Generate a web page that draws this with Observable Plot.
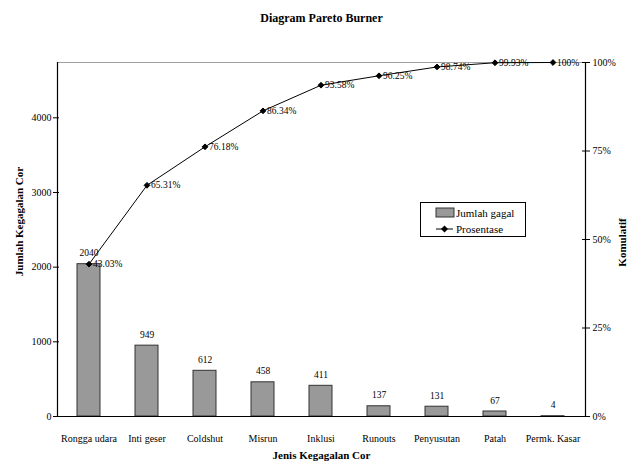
<!DOCTYPE html>
<html>
<head>
<meta charset="utf-8">
<script src="https://cdn.jsdelivr.net/npm/d3@7"></script>
<script src="https://cdn.jsdelivr.net/npm/@observablehq/plot@0.6"></script>
<style>
  html, body { margin: 0; padding: 0; background: white; }
</style>
</head>
<body>
<div id="chart"></div>
<script>
const categories = ["Rongga udara", "Inti geser", "Coldshut", "Misrun", "Inklusi", "Runouts", "Penyusutan", "Patah", "Permk. Kasar"];
const counts = [2040, 949, 612, 458, 411, 137, 131, 67, 4];
const cumulativePct = [43.03, 65.31, 76.18, 86.34, 93.58, 96.25, 98.74, 99.93, 100];
const pctLabels = ["43.03%", "65.31%", "76.18%", "86.34%", "93.58%", "96.25%", "98.74%", "99.93%", "100%"];
const leftTicks = [0, 1000, 2000, 3000, 4000];
const rightTicks = [0, 25, 50, 75, 100];
const total = 4741;

const data = categories.map((c, i) => ({cat: c, count: counts[i], pct: cumulativePct[i], label: pctLabels[i]}));
const pctY = d => d.pct / 100 * total;

const chart = Plot.plot({
  width: 636,
  height: 463,
  marginTop: 62,
  marginBottom: 47,
  marginLeft: 57,
  marginRight: 51,
  style: {fontFamily: "'Liberation Serif', 'Times New Roman', serif", fontSize: "10px", background: "white", color: "black"},
  x: {domain: categories, paddingInner: 0.6, paddingOuter: 0.3, label: null},
  y: {domain: [0, total], label: null},
  marks: [
    Plot.barY(data, {x: "cat", y: "count", fill: "#999999", stroke: "#333", strokeWidth: 1}),
    Plot.ruleY([total], {stroke: "#a0a0a0", strokeWidth: 1.2}),
    Plot.ruleY([0], {stroke: "black", strokeWidth: 1.2}),
    Plot.frame({anchor: "left", stroke: "black", strokeWidth: 1.2}),
    Plot.frame({anchor: "right", stroke: "black", strokeWidth: 1.2}),
    Plot.axisX({tickSize: 0, tickPadding: 18, label: null, fontSize: 10}),
    Plot.axisY({ticks: leftTicks, tickFormat: d => String(d), tickSize: 6, dx: 2, tickPadding: 2, label: null, fontSize: 10}),
    Plot.axisY({anchor: "right", ticks: rightTicks.map(p => p / 100 * total), tickFormat: d => Math.round(d / total * 100) + "%", tickSize: 8, dx: -4, tickPadding: 3, label: null, fontSize: 10}),
    Plot.line(data, {x: "cat", y: pctY, stroke: "black", strokeWidth: 1}),
    Plot.dot(data, {x: "cat", y: pctY, symbol: "diamond2", r: 2.6, fill: "black", stroke: "black", strokeWidth: 1}),
    Plot.text(data, {x: "cat", y: pctY, text: "label", textAnchor: "start", dx: 4, fontSize: 9.5}),
    Plot.text(data, {x: "cat", y: "count", text: d => String(d.count), dy: -11, fontSize: 9.5}),
    Plot.text(["Diagram Pareto Burner"], {frameAnchor: "top", lineAnchor: "middle", dy: -44, fontSize: 12, fontWeight: "bold"}),
    Plot.text(["Jenis Kegagalan Cor"], {frameAnchor: "bottom", lineAnchor: "middle", dy: 39, fontSize: 11, fontWeight: "bold"}),
    Plot.text(["Jumlah Kegagalan Cor"], {frameAnchor: "left", textAnchor: "middle", lineAnchor: "middle", rotate: -90, dx: -38, dy: -18, fontSize: 11, fontWeight: "bold"}),
    Plot.text(["Komulatif"], {frameAnchor: "right", textAnchor: "middle", lineAnchor: "middle", rotate: -90, dx: 37, dy: 3, fontSize: 11, fontWeight: "bold"})
  ]
});

// Legend
const svg = d3.select(chart);
const lg = svg.append("g").attr("font-family", "'Liberation Serif', 'Times New Roman', serif").attr("font-size", 11).attr("text-anchor", "start");
lg.append("rect").attr("x", 420.5).attr("y", 202.5).attr("width", 105).attr("height", 34).attr("fill", "white").attr("stroke", "black");
lg.append("rect").attr("x", 436).attr("y", 208).attr("width", 18).attr("height", 9).attr("fill", "#999999").attr("stroke", "#333");
lg.append("text").attr("x", 456).attr("y", 217).attr("text-anchor", "start").text("Jumlah gagal");
lg.append("line").attr("x1", 436).attr("x2", 453).attr("y1", 229).attr("y2", 229).attr("stroke", "black");
lg.append("path").attr("d", "M444.5,225.5L448,229L444.5,232.5L441,229Z").attr("fill", "black");
lg.append("text").attr("x", 456).attr("y", 233).attr("text-anchor", "start").text("Prosentase");

document.getElementById("chart").appendChild(chart);
</script>
</body>
</html>
